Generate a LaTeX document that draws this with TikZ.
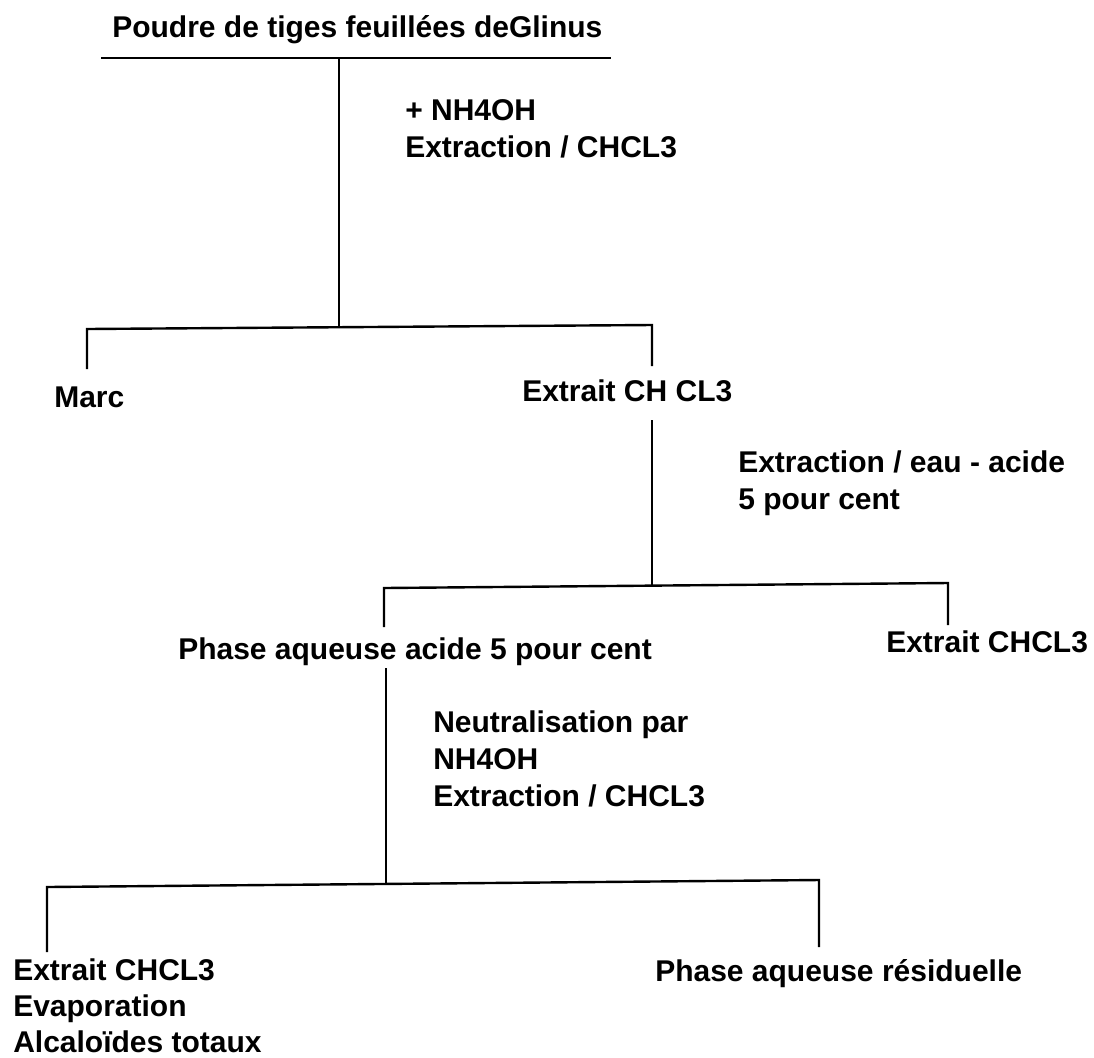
\documentclass[tikz,border=0pt]{standalone}
\usepackage{fontspec}
\setmainfont{Liberation Sans}
\usepackage{tikz}
\usetikzlibrary{positioning}

\begin{document}
\begin{tikzpicture}[x=0.75pt,y=-0.75pt,
    etape/.style={font=\bfseries\fontsize{22.5pt}{27.75pt}\selectfont, inner sep=0pt, anchor=base west},
    note/.style={etape, align=left, anchor=north west},
    trait/.style={line width=1.8pt}]
  \useasboundingbox (0,0) rectangle (1094,1057);
  % textes
  \node [etape] (poudre) at (112,37) {Poudre de tiges feuillées deGlinus};
  \node [note] (op1) at (405,99) {+ NH4OH\\Extraction / CHCL3};
  \node [etape] (marc) at (54,407) {Marc};
  \node [etape] (extrait1) at (522,401) {Extrait CH CL3};
  \node [note] (op2) at (738,450) {Extraction / eau - acide\\5 pour cent};
  \node [etape] (phase1) at (178,659) {Phase aqueuse acide 5 pour cent};
  \node [etape] (extrait2) at (886,652) {Extrait CHCL3};
  \node [note] (op3) at (433,710) {Neutralisation par\\NH4OH\\Extraction / CHCL3};
  \node [etape] (residu) at (655,981) {Phase aqueuse résiduelle};
  \node [note, font=\bfseries\fontsize{22.5pt}{27pt}\selectfont] (final) at (13,958) {Extrait CHCL3\\Evaporation\\Alcaloïdes totaux};
  % points de jonction
  \coordinate (s1g) at (101,58);
  \coordinate (s1d) at (611,58);
  \coordinate (s1) at (339,58);
  \coordinate (b1) at (339,327);
  \coordinate (b1g) at (87,329);
  \coordinate (b1d) at (652,325);
  \coordinate (m1) at (87,369);
  \coordinate (m2) at (652,366);
  \coordinate (s2) at (652,420);
  \coordinate (b2) at (652,586);
  \coordinate (b2g) at (384,588);
  \coordinate (b2d) at (948,583);
  \coordinate (m3) at (384,627);
  \coordinate (m4) at (948,625);
  \coordinate (s3) at (386,668);
  \coordinate (b3) at (386,884);
  \coordinate (b3g) at (47,887);
  \coordinate (b3d) at (819,880);
  \coordinate (m5) at (47,952);
  \coordinate (m6) at (819,947);
  % traits
  \draw [trait] (s1g) -- (s1d);
  \draw [trait] (s1) -- (b1);
  \draw [trait] (m1) -- (b1g) -- (b1d) -- (m2);
  \draw [trait] (s2) -- (b2);
  \draw [trait] (m3) -- (b2g) -- (b2d) -- (m4);
  \draw [trait] (s3) -- (b3);
  \draw [trait] (m5) -- (b3g) -- (b3d) -- (m6);
\end{tikzpicture}
\end{document}
